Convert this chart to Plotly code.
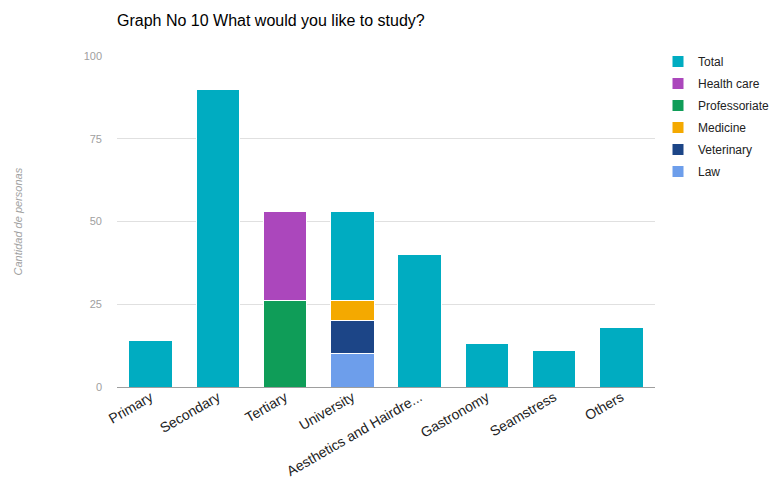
import plotly.graph_objects as go

categories = ["Primary", "Secondary", "Tertiary", "University",
              "Aesthetics and Hairdre...", "Gastronomy", "Seamstress", "Others"]

law = [None, None, None, 10, None, None, None, None]
veterinary = [None, None, None, 10, None, None, None, None]
medicine = [None, None, None, 6, None, None, None, None]
professoriate = [None, None, 26, None, None, None, None, None]
health_care = [None, None, 27, None, None, None, None, None]
total = [14, 90, None, 27, 40, 13, 11, 18]

series = [
    ("Law", law, "#6d9eeb"),
    ("Veterinary", veterinary, "#1c4587"),
    ("Medicine", medicine, "#f4a900"),
    ("Professoriate", professoriate, "#0f9d58"),
    ("Health care", health_care, "#ab47bc"),
    ("Total", total, "#00acc1"),
]

y_ticks = [0, 25, 50, 75, 100]

fig = go.Figure()
n = len(series)
for i, (name, vals, color) in enumerate(series):
    fig.add_trace(go.Bar(
        x=categories, y=vals, name=name, legendrank=n - i, legendgroup=name,
        marker=dict(color=color, line=dict(color="white", width=1)),
    ))

fig.update_layout(
    width=776, height=479,
    barmode="stack", bargap=0.35,
    plot_bgcolor="white", paper_bgcolor="white",
    font=dict(family="Liberation Sans, Arial, sans-serif", color="#222"),
    margin=dict(l=117, r=121, t=56, b=92, autoexpand=False),
    title=dict(text="Graph No 10 What would you like to study?",
               xref="container", x=117/776, xanchor="left",
               yref="container", y=1 - 20/479, yanchor="middle",
               font=dict(size=16, color="#000")),
    legend=dict(xref="container", x=658/776, yref="container", y=1 - 47/479,
                xanchor="left", yanchor="top", traceorder="grouped",
                tracegroupgap=3,
                font=dict(size=12, color="#222"), bgcolor="rgba(0,0,0,0)"),
    yaxis=dict(range=[0, 100], tickvals=y_ticks, showgrid=True,
               gridcolor="#e0e0e0", zeroline=False, ticks="",
               tickfont=dict(size=11, color="#a0a0a0"), ticklabelstandoff=14),
    xaxis=dict(tickangle=-30, showline=True, linecolor="#9e9e9e", linewidth=1,
               tickfont=dict(size=14, color="#222"), ticks="", automargin=False,
               ticklabelstandoff=-4),
    annotations=[dict(text="<i>Cantidad de personas</i>", textangle=-90,
                      xref="paper", x=-(117-17)/538, xanchor="center",
                      yref="paper", y=0.5, yanchor="middle", showarrow=False,
                      font=dict(size=11, color="#a0a0a0"))],
)

fig.write_html("out.html")
